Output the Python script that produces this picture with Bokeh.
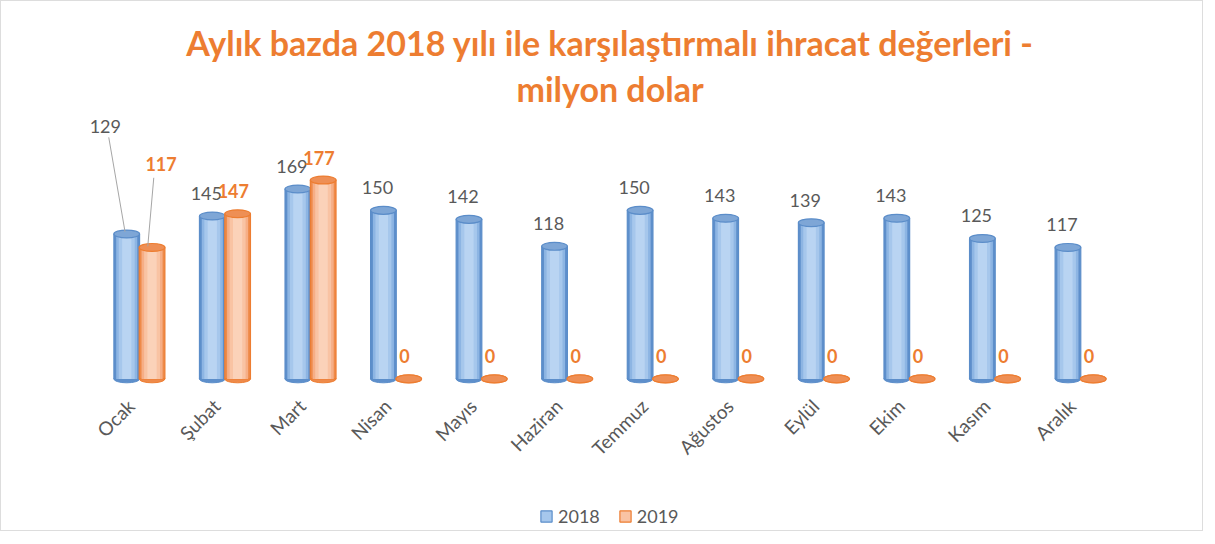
import numpy as np
from bokeh.plotting import figure
from bokeh.layouts import column
from bokeh.models import ColumnDataSource, FixedTicker, Title, Legend, LegendItem, Range1d
from bokeh.embed import file_html
from bokeh.resources import INLINE
from bokeh.core.properties import value
import math

# ---------------- data ----------------
months = ["Ocak", "Şubat", "Mart", "Nisan", "Mayıs", "Haziran", "Temmuz",
          "Ağustos", "Eylül", "Ekim", "Kasım", "Aralık"]
v2018 = [129, 145, 169, 150, 142, 118, 150, 143, 139, 143, 125, 117]
v2019 = [117, 147, 177, 0, 0, 0, 0, 0, 0, 0, 0, 0]
series_names = ["2018", "2019"]
title_line1 = "Aylık bazda 2018 yılı ile karşılaştırmalı ihracat değerleri -"
title_line2 = "milyon dolar"

# ---------------- style ----------------
FONT = "Lato"
ORANGE = "#ED7D31"
GRAY = "#595959"
BW = 0.30      # cylinder width (x units)
OFF = 0.148    # dodge offset of each series
EH = 7.0       # ellipse height (y units)
LABEL_SHIFT = 0.1  # category labels sit slightly left of the group centre

blue_shades = ["#5E8FCB", "#8DB5E3", "#A6C7EC", "#B9D4F2"]
orange_shades = ["#EE8A4A", "#F6AE86", "#F9C3A3", "#FBD2B9"]
shade_w = [1.0, 0.82, 0.62, 0.36]

x = np.arange(len(months), dtype=float)
xb = x - OFF
xo = x + OFF

p = figure(frame_width=1061, frame_height=273, x_range=Range1d(-0.7, 11.7), y_range=Range1d(-5, 238),
           output_backend="svg", toolbar_location=None,
           min_border_left=78, min_border_right=62, min_border_top=110, min_border_bottom=112)
p.outline_line_color = None
p.grid.visible = False
p.yaxis.visible = False
p.background_fill_color = "white"
p.border_fill_color = "white"

p.title.text = title_line1
p.title.align = "center"
p.title.text_font = FONT
p.title.text_font_size = "34px"
p.title.text_font_style = "bold"
p.title.text_color = ORANGE
p.title.standoff = 0
p.add_layout(Title(text=title_line2, align="center", text_font=FONT, text_font_size="34px",
                   text_font_style="bold", text_color=ORANGE, standoff=6), "above")

def cylinders(xs, vals, shades, top_fill, edge):
    src = ColumnDataSource(dict(x=xs, top=vals, zero=[0] * len(vals)))
    p.ellipse(x="x", y="zero", width=BW, height=EH, source=src,
              fill_color=shades[0], line_color=edge, line_width=1)
    for i, (c, w) in enumerate(zip(shades, shade_w)):
        p.vbar(x="x", top="top", bottom=0, width=BW * w, source=src, fill_color=c,
               line_color=edge if i == 0 else None, line_width=1.2)
    p.ellipse(x="x", y="top", width=BW, height=EH, source=src,
              fill_color=top_fill, line_color=edge, line_width=1.2)

cylinders(xb, v2018, blue_shades, "#7EA6D6", "#5B8DC9")
cylinders(xo, v2019, orange_shades, "#EE8F55", ORANGE)

# ---------------- data labels ----------------
lx18 = list(xb - 0.07); ly18 = [v + 20 for v in v2018]
lx19 = list(xo - 0.05); ly19 = [v + 20 for v in v2019]
# Ocak labels are pulled away with leader lines
lx18[0] = xb[0] - 0.25; ly18[0] = v2018[0] + 96
lx19[0] = xo[0] + 0.105; ly19[0] = v2019[0] + 74

p.segment(x0=[xb[0] - 0.21, xo[0] + 0.02], y0=[ly18[0] - 10, ly19[0] - 12],
          x1=[xb[0] - 0.02, xo[0] - 0.05], y1=[v2018[0] + 2, v2019[0] + 1],
          line_color="#A6A6A6", line_width=1)

p.text(x=lx18, y=ly18, text=[str(v) for v in v2018], text_align="center",
       text_baseline="middle", text_font=value(FONT), text_font_size="18px", text_color=GRAY)
p.text(x=lx19, y=ly19, text=[str(v) for v in v2019], text_align="center",
       text_baseline="middle", text_font=value(FONT), text_font_size="18px",
       text_font_style="bold", text_color=ORANGE)

# ---------------- axis ----------------
tick_pos = [round(float(i) - LABEL_SHIFT, 3) for i in range(len(months))]
xa = p.xaxis[0]
xa.ticker = FixedTicker(ticks=tick_pos)
xa.major_label_overrides = {t: m for t, m in zip(tick_pos, months)}
xa.major_label_orientation = math.pi / 4
xa.axis_line_color = None
xa.major_tick_line_color = None
xa.minor_tick_line_color = None
xa.major_label_text_font = FONT
xa.major_label_text_font_size = "19px"
xa.major_label_text_color = GRAY
xa.major_label_standoff = 12

# ---------------- legend strip ----------------
p2 = figure(width=1201, height=34, x_range=Range1d(0, 1), y_range=Range1d(0, 1),
            output_backend="svg", toolbar_location=None, min_border=0)
p2.axis.visible = False
p2.grid.visible = False
p2.outline_line_color = None
# hidden swatch renderers: they only feed the legend
lg18 = p2.vbar(x=[0.5], top=[0.5], bottom=[0.5], width=0.01, fill_color="#A6C7EC",
               line_color="#5B8DC9", line_width=1.2, visible=False)
lg19 = p2.vbar(x=[0.5], top=[0.5], bottom=[0.5], width=0.01, fill_color="#F9C3A3",
               line_color=ORANGE, line_width=1.2, visible=False)
legend = Legend(items=[LegendItem(label=series_names[0], renderers=[lg18]),
                       LegendItem(label=series_names[1], renderers=[lg19])],
                orientation="horizontal", location=(460, 3), margin=0, padding=4,
                label_text_font=FONT, label_text_font_size="18px", label_text_color=GRAY,
                glyph_width=14, glyph_height=14, spacing=18, label_standoff=5,
                inactive_fill_alpha=0,
                border_line_color=None, background_fill_alpha=0)
p2.add_layout(legend, "center")

layout = column(p, p2, spacing=0, styles={"border": "1px solid #DDDDDD"})
open("out.html", "w").write(file_html(layout, INLINE))
